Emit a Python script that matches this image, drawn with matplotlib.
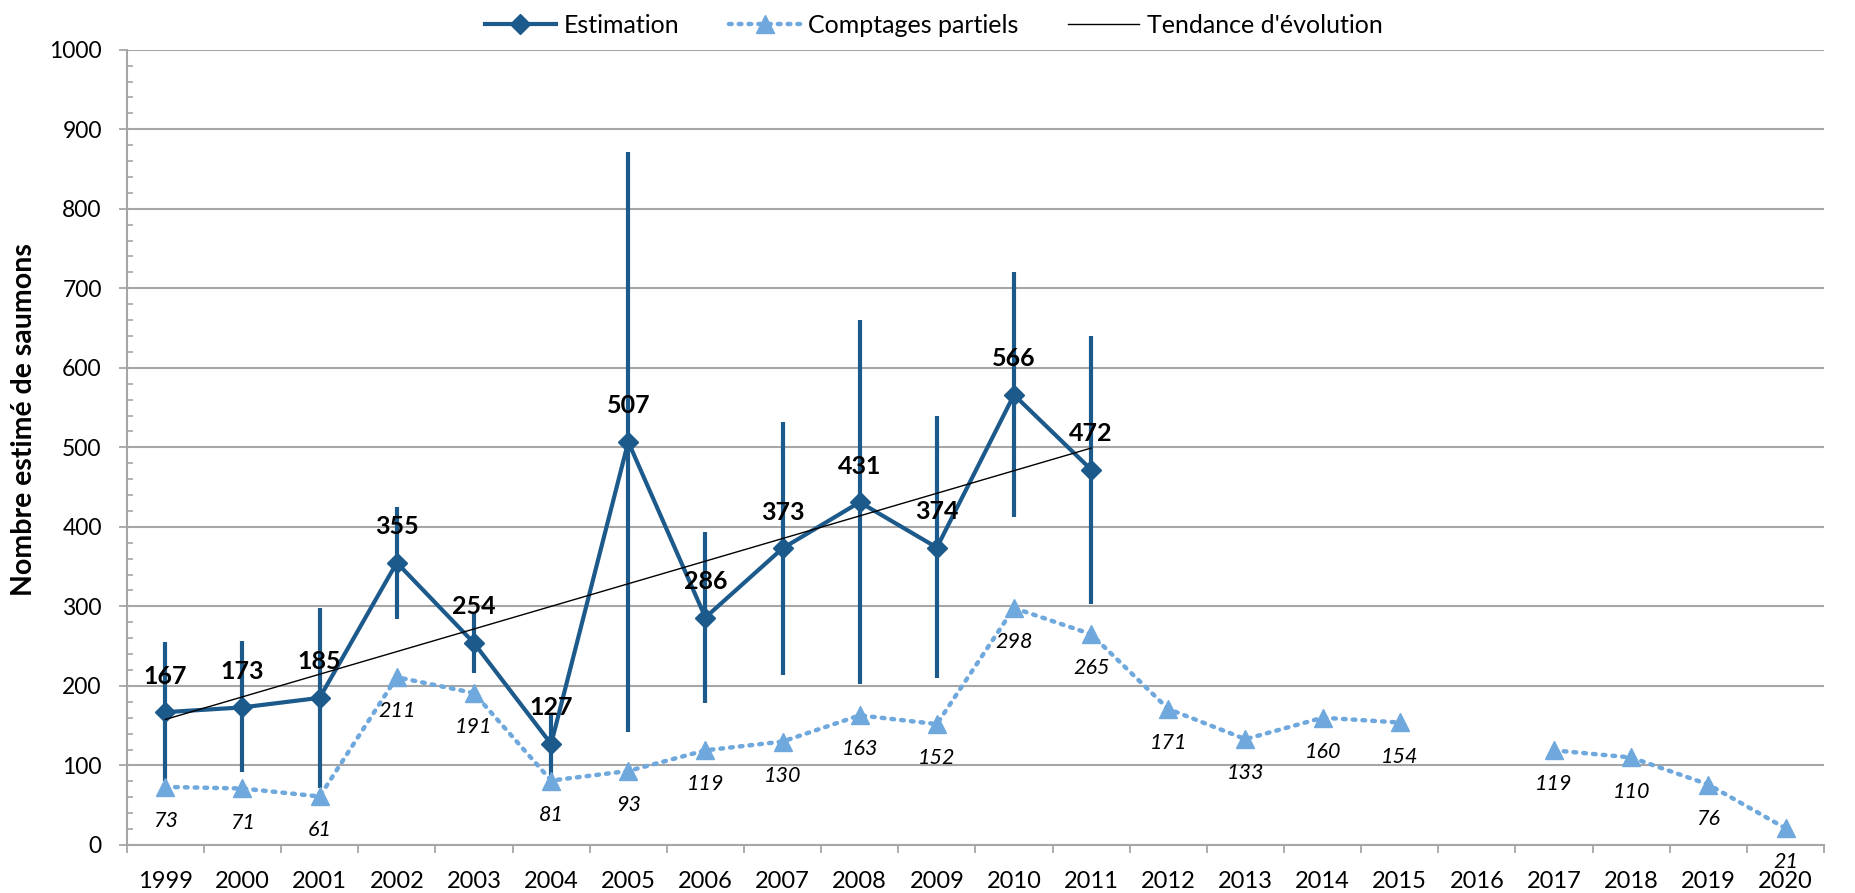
import matplotlib
matplotlib.use("Agg")
import matplotlib.pyplot as plt
from matplotlib.ticker import MultipleLocator, FixedLocator
import numpy as np

# data
years = list(range(1999, 2021))
est_years = list(range(1999, 2012))
estimation = [167, 173, 185, 355, 254, 127, 507, 286, 373, 431, 374, 566, 472]
est_low = [80, 92, 72, 284, 216, 85, 142, 178, 214, 202, 210, 412, 303]
est_high = [255, 256, 298, 425, 292, 166, 872, 394, 532, 660, 539, 720, 640]
comptages = [73, 71, 61, 211, 191, 81, 93, 119, 130, 163, 152, 298, 265,
             171, 133, 160, 154, np.nan, 119, 110, 76, 21]

dark = '#1d5a8c'
light = '#6fa8dc'
grid_col = '#a6a6a6'

plt.rcParams['font.family'] = ['Lato', 'DejaVu Sans']

fig = plt.figure(figsize=(18.56, 8.93), dpi=100)
ax = fig.add_axes([0.0683, 0.0538, 0.9145, 0.8905])

# error bars (behind the line)
ax.vlines(est_years, est_low, est_high, color=dark, linewidth=3, zorder=3)

ax.plot(years, comptages, linestyle=(0, (0.6, 1.6)), dash_capstyle='round',
        color=light, linewidth=3.2, marker='^', markersize=13.5,
        markeredgecolor=light, label='Comptages partiels', zorder=4)

ax.plot(est_years, estimation, '-', color=dark, linewidth=3, marker='D',
        markersize=10.5, label='Estimation', zorder=5)

# linear trend on the estimation
coef = np.polyfit(est_years, estimation, 1)
trend_x = np.array([est_years[0], est_years[-1]])
ax.plot(trend_x, np.polyval(coef, trend_x), color='black', linewidth=1,
        label="Tendance d'évolution", zorder=6)

# value labels
for x, v in zip(est_years, estimation):
    ax.annotate(str(v), (x, v), xytext=(0, 26), textcoords='offset points',
                ha='center', va='center', fontsize=18, fontweight='bold',
                zorder=7)
for x, v in zip(years, comptages):
    if np.isnan(v):
        continue
    ax.annotate(str(int(v)), (x, v), xytext=(0, -24.5), textcoords='offset points',
                ha='center', va='center', fontsize=15.5, fontstyle='italic',
                annotation_clip=False, zorder=7)

# axes
ax.set_xlim(1998.5, 2020.5)
ax.set_ylim(0, 1000)
ax.yaxis.set_major_locator(MultipleLocator(100))
ax.yaxis.set_minor_locator(MultipleLocator(20))
ax.grid(axis='y', color=grid_col, linewidth=1.5, zorder=0)
ax.set_axisbelow(True)

ax.xaxis.set_major_locator(FixedLocator(np.arange(1998.5, 2021, 1)))
ax.xaxis.set_minor_locator(FixedLocator(years))
ax.set_xticklabels([], minor=False)
ax.set_xticklabels([str(y) for y in years], minor=True, fontsize=17)
ax.tick_params(axis='x', which='major', direction='out', length=6,
               width=1.3, color=grid_col)
ax.tick_params(axis='x', which='minor', length=0, pad=19)
ax.tick_params(axis='y', which='major', direction='out', length=6,
               width=1.3, color=grid_col, labelsize=16.5, pad=12)
ax.tick_params(axis='y', which='minor', direction='in', length=4.5,
               width=1.2, color=grid_col)

for s in ['top', 'right']:
    ax.spines[s].set_visible(False)
for s in ['left', 'bottom']:
    ax.spines[s].set_color(grid_col)
    ax.spines[s].set_linewidth(1.5)

ax.set_ylabel('Nombre estimé de saumons', fontsize=20.5, fontweight='bold')
ax.yaxis.label.set_va('center')
ax.yaxis.set_label_coords(-0.0605, 0.535)

handles, labels = ax.get_legend_handles_labels()
order = [1, 0, 2]
fig.legend([handles[i] for i in order], [labels[i] for i in order],
           loc='center', bbox_to_anchor=(0.503, 0.972), ncol=3, frameon=False,
           fontsize=18, handlelength=2.85, columnspacing=2.0,
           handletextpad=0.3)

fig.savefig('out.png', dpi=100)
